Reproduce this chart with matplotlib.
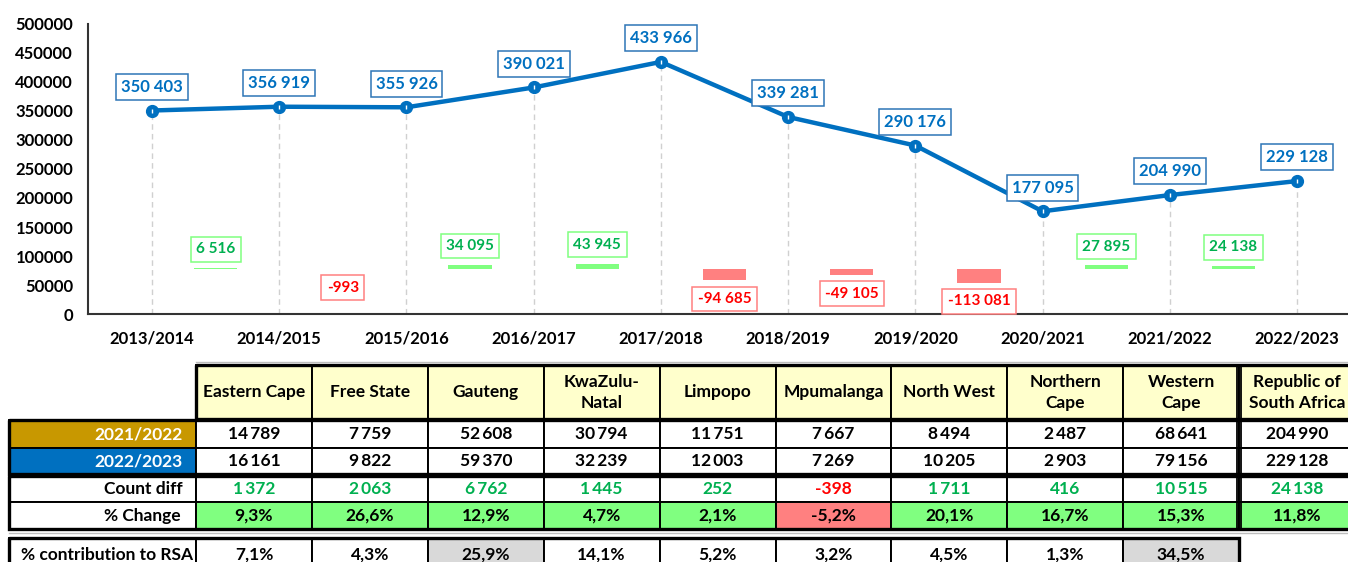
import matplotlib
matplotlib.use('Agg')
import matplotlib.pyplot as plt
from matplotlib.patches import Rectangle
import numpy as np

plt.rcParams['font.family'] = ['Lato', 'DejaVu Sans']
plt.rcParams['font.weight'] = 'bold'

# ---- yearly totals ----
years = ['2013/2014', '2014/2015', '2015/2016', '2016/2017', '2017/2018',
         '2018/2019', '2019/2020', '2020/2021', '2021/2022', '2022/2023']
totals = [350403, 356919, 355926, 390021, 433966, 339281, 290176, 177095, 204990, 229128]
year_changes = [6516, -993, 34095, 43945, -94685, -49105, -113081, 27895, 24138]

# ---- provincial table ----
provinces = ['Eastern Cape', 'Free State', 'Gauteng', 'KwaZulu-\nNatal', 'Limpopo',
             'Mpumalanga', 'North West', 'Northern\nCape', 'Western\nCape',
             'Republic of\nSouth Africa']
count_2021_22 = [14789, 7759, 52608, 30794, 11751, 7667, 8494, 2487, 68641, 204990]
count_2022_23 = [16161, 9822, 59370, 32239, 12003, 7269, 10205, 2903, 79156, 229128]
count_diff = [1372, 2063, 6762, 1445, 252, -398, 1711, 416, 10515, 24138]
pct_change = [9.3, 26.6, 12.9, 4.7, 2.1, -5.2, 20.1, 16.7, 15.3, 11.8]
pct_contribution = [7.1, 4.3, 25.9, 14.1, 5.2, 3.2, 4.5, 1.3, 34.5]

BLUE = '#0070C0'
BLUE_EDGE = '#2E75B6'
GREEN_TXT = '#00B050'
GREEN_FILL = '#80FF80'
RED_TXT = '#FF0000'
RED_FILL = '#FF8080'
GOLD = '#C89800'
HEAD_FILL = '#FFFFCC'
GREY_FILL = '#D9D9D9'

W, H = 1348, 562
fig = plt.figure(figsize=(W / 100, H / 100), dpi=100)


def px_rect(left, top, right, bottom):
    return [left / W, 1 - bottom / H, (right - left) / W, (bottom - top) / H]


def fmt_int(v, sep=' '):
    s = f'{abs(v):,}'.replace(',', sep)
    return ('-' if v < 0 else '') + s


def fmt_pct(v):
    return f'{v:.1f}%'.replace('.', ',')


# ---- line chart ----
ax = fig.add_axes(px_rect(88.4, 23.5, 1360.6, 314.3))
x = np.arange(len(years))
ax.set_xlim(-0.5, len(years) - 0.5)
ax.set_ylim(0, 500000)

ax.vlines(x, 0, totals, colors='#D0D0D0', linestyles=(0, (4, 3)), lw=1, zorder=1)
ax.plot(x, totals, color=BLUE, lw=3.2, marker='o', ms=8.5, zorder=3)
ax.plot(x, totals, ls='none', marker='|', ms=3.5, mew=1, color='white', zorder=4)

for xi, v in zip(x, totals):
    ax.annotate(fmt_int(v), (xi, v), xytext=(0, 17), textcoords='offset points',
                ha='center', va='center', fontsize=12, color=BLUE, fontweight='bold',
                bbox=dict(boxstyle='square,pad=0.3', fc='white', ec=BLUE_EDGE, lw=1.1),
                zorder=5)

ax.set_yticks(np.arange(0, 500001, 50000))
ax.set_yticklabels([str(v) for v in np.arange(0, 500001, 50000)])
ax.set_xticks(x)
ax.set_xticklabels(years)
ax.tick_params(axis='y', length=0, pad=11, labelsize=12)
ax.tick_params(axis='x', length=0, pad=12, labelsize=12)
for lab in ax.get_xticklabels() + ax.get_yticklabels():
    lab.set_fontweight('bold')
for side in ('top', 'right'):
    ax.spines[side].set_visible(False)
for side in ('left', 'bottom'):
    ax.spines[side].set_color('#333333')
    ax.spines[side].set_linewidth(1.5)

# ---- year-on-year change bars ----
ax2 = ax.twinx()
ax2.set_ylim(-375000, 2025000)
ax2.axis('off')
bx = x[1:] - 0.5
bar_colors = [GREEN_FILL if c > 0 else RED_FILL for c in year_changes]
ax2.bar(bx, year_changes, width=0.34, color=bar_colors, zorder=2)
for xi, c in zip(bx, year_changes):
    up = c > 0
    ax2.annotate(fmt_int(c), (xi, c), xytext=(0, 13.5 if up else -13.5),
                 textcoords='offset points', ha='center', va='center', fontsize=11,
                 fontweight='bold', color=GREEN_TXT if up else RED_TXT,
                 bbox=dict(boxstyle='square,pad=0.35', fc='white',
                           ec=GREEN_FILL if up else RED_FILL, lw=1.1))

# ---- table ----
tab = fig.add_axes([0, 0, 1, 1])
tab.set_xlim(0, W)
tab.set_ylim(H, 0)
tab.axis('off')

label_l, col0, colw = 9, 196, 115.9
edges = [col0 + i * colw for i in range(len(provinces) + 1)]
FS = 12.5
INNER = 1.4
OUTER = 2.4


def cell(l, t, r, b, fc, text='', color='black', ha='center', tx=None):
    tab.add_patch(Rectangle((l, t), r - l, b - t, fc=fc, ec='black', lw=INNER))
    if text:
        xx = tx if tx is not None else (l + r) / 2
        tab.text(xx, (t + b) / 2 + 0.5, text, ha=ha, va='center', fontsize=FS,
                 color=color, fontweight='bold', linespacing=1.35)


head = (365, 418.5)
r1 = (420, 447.5)
r2 = (447.5, 474)
r3 = (476, 502)
r4 = (502, 529)
r5 = (538, 570)

# header
for i, p in enumerate(provinces):
    cell(edges[i], head[0], edges[i + 1], head[1], HEAD_FILL, p)

# year rows
cell(label_l, r1[0], col0, r1[1], GOLD, '2021/2022', color='white', ha='right', tx=183)
cell(label_l, r2[0], col0, r2[1], BLUE, '2022/2023', color='white', ha='right', tx=183)
for i in range(len(provinces)):
    cell(edges[i], r1[0], edges[i + 1], r1[1], 'white', fmt_int(count_2021_22[i], '\u2009'))
    cell(edges[i], r2[0], edges[i + 1], r2[1], 'white', fmt_int(count_2022_23[i], '\u2009'))

# change rows
cell(label_l, r3[0], col0, r3[1], 'white', 'Count diff', ha='right', tx=183)
cell(label_l, r4[0], col0, r4[1], 'white', '% Change', ha='right', tx=181)
for i in range(len(provinces)):
    d = count_diff[i]
    cell(edges[i], r3[0], edges[i + 1], r3[1], 'white', fmt_int(d, '\u2009'),
         color=GREEN_TXT if d > 0 else RED_TXT)
    pc = pct_change[i]
    cell(edges[i], r4[0], edges[i + 1], r4[1], GREEN_FILL if pc > 0 else RED_FILL, fmt_pct(pc))

# contribution row
top_two = sorted(pct_contribution)[-2:]
cell(label_l, r5[0], col0, r5[1], 'white', '% contribution to RSA', ha='right', tx=193)
for i, v in enumerate(pct_contribution):
    cell(edges[i], r5[0], edges[i + 1], r5[1], GREY_FILL if v in top_two else 'white', fmt_pct(v))


# block outlines
def outline(l, t, r, b):
    tab.add_patch(Rectangle((l, t), r - l, b - t, fc='none', ec='black', lw=OUTER))


outline(col0, head[0], edges[-1], head[1])
outline(label_l, r1[0], edges[-1], r2[1])
outline(label_l, r3[0], edges[-1], r4[1])
outline(label_l, r5[0], edges[-2], r5[1])
for xv in (edges[-2] - 2, edges[-2] + 2):
    tab.plot([xv, xv], [head[0], r4[1]], color='black', lw=1.3)
tab.plot([col0, W], [362, 362], color='#BDBDBD', lw=1)
tab.plot([label_l, W], [533, 533], color='#BDBDBD', lw=1)

fig.savefig('out.png', dpi=100)
